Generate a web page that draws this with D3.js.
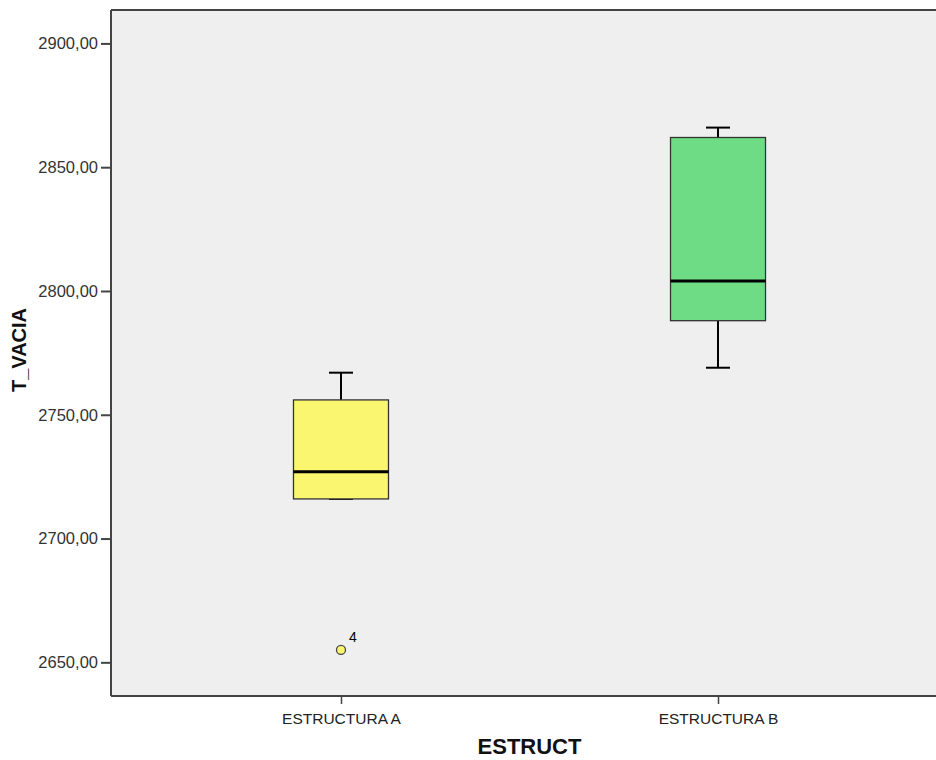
<!DOCTYPE html>
<html><head><meta charset="utf-8">
<script src="https://cdn.jsdelivr.net/npm/d3@7"></script>
<style>body{margin:0;background:#fff}svg{display:block}</style>
</head><body>
<svg id="c" width="936" height="760"></svg>
<script>
const categories = ["ESTRUCTURA A", "ESTRUCTURA B"];
const whiskerLow = [2716, 2769];
const q1 = [2716, 2788];
const median = [2727, 2804];
const q3 = [2756, 2862];
const whiskerHigh = [2767, 2866];
const outlierValues = [[2655], []];
const outlierLabels = [["4"], []];
const fills = ["#FBF670", "#6EDC84"];
const yTicks = [2650, 2700, 2750, 2800, 2850, 2900];

const svg = d3.select("#c");
const L = 111, T = 10, R = 948, B = 696;
const font = "Arial, 'Liberation Sans', sans-serif";

const y = d3.scaleLinear().domain([2636.4, 2913.5]).range([B, T]);
const x = d3.scalePoint().domain(categories).range([L, R]).padding(0.61).align(0.5);

svg.append("rect").attr("x", L).attr("y", T).attr("width", R - L).attr("height", B - T)
  .attr("fill", "#EFEFEF");

const boxW = 95, capW = 24;
const g = svg.append("g");
categories.forEach((c, i) => {
  const cx = x(c);
  g.append("line").attr("x1", cx).attr("x2", cx).attr("y1", y(q3[i])).attr("y2", y(whiskerHigh[i]))
    .attr("stroke", "#000").attr("stroke-width", 2);
  g.append("line").attr("x1", cx - capW / 2).attr("x2", cx + capW / 2).attr("y1", y(whiskerHigh[i])).attr("y2", y(whiskerHigh[i]))
    .attr("stroke", "#000").attr("stroke-width", 2);
  g.append("line").attr("x1", cx).attr("x2", cx).attr("y1", y(q1[i])).attr("y2", y(whiskerLow[i]))
    .attr("stroke", "#000").attr("stroke-width", 2);
  g.append("line").attr("x1", cx - capW / 2).attr("x2", cx + capW / 2).attr("y1", y(whiskerLow[i])).attr("y2", y(whiskerLow[i]))
    .attr("stroke", "#000").attr("stroke-width", 2);
  g.append("rect").attr("x", cx - boxW / 2).attr("y", y(q3[i])).attr("width", boxW).attr("height", y(q1[i]) - y(q3[i]))
    .attr("fill", fills[i]).attr("stroke", "#333").attr("stroke-width", 1.3);
  g.append("line").attr("x1", cx - boxW / 2).attr("x2", cx + boxW / 2).attr("y1", y(median[i])).attr("y2", y(median[i]))
    .attr("stroke", "#000").attr("stroke-width", 3);
  outlierValues[i].forEach((v, j) => {
    g.append("circle").attr("cx", cx).attr("cy", y(v)).attr("r", 4.5)
      .attr("fill", fills[i]).attr("stroke", "#444").attr("stroke-width", 1.3);
    g.append("text").attr("x", cx + 8).attr("y", y(v) - 8).text(outlierLabels[i][j])
      .attr("font-family", font).attr("font-size", 14).attr("fill", "#000");
  });
});

const fmt = d => d3.format(".2f")(d).replace(".", ",");
const ya = svg.append("g").attr("transform", `translate(${L},0)`)
  .call(d3.axisLeft(y).tickValues(yTicks).tickFormat(fmt).tickSize(10).tickPadding(3));
ya.select(".domain").remove();
ya.selectAll("line").attr("stroke", "#444").attr("stroke-width", 2);
ya.selectAll("text").attr("font-family", font).attr("font-size", 16.5).attr("fill", "#333");

const xa = svg.append("g").attr("transform", `translate(0,${B})`)
  .call(d3.axisBottom(x).tickSize(8).tickPadding(9));
xa.select(".domain").remove();
xa.selectAll("line").attr("stroke", "#444").attr("stroke-width", 1.5);
xa.selectAll("text").attr("font-family", font).attr("font-size", 15.5).attr("fill", "#222");

svg.append("line").attr("x1", L).attr("x2", L).attr("y1", T).attr("y2", B).attr("stroke", "#444").attr("stroke-width", 2);
svg.append("line").attr("x1", L).attr("x2", R).attr("y1", T).attr("y2", T).attr("stroke", "#444").attr("stroke-width", 2);
svg.append("line").attr("x1", L).attr("x2", R).attr("y1", B).attr("y2", B).attr("stroke", "#444").attr("stroke-width", 2);

svg.append("text").attr("x", (L + R) / 2).attr("y", 754).attr("text-anchor", "middle")
  .attr("font-family", font).attr("font-weight", "bold").attr("font-size", 22).attr("fill", "#111").text("ESTRUCT");
svg.append("text").attr("transform", `translate(26,350) rotate(-90)`).attr("text-anchor", "middle")
  .attr("font-family", font).attr("font-weight", "bold").attr("font-size", 20).attr("fill", "#111").text("T_VACIA");
</script>
</body></html>
